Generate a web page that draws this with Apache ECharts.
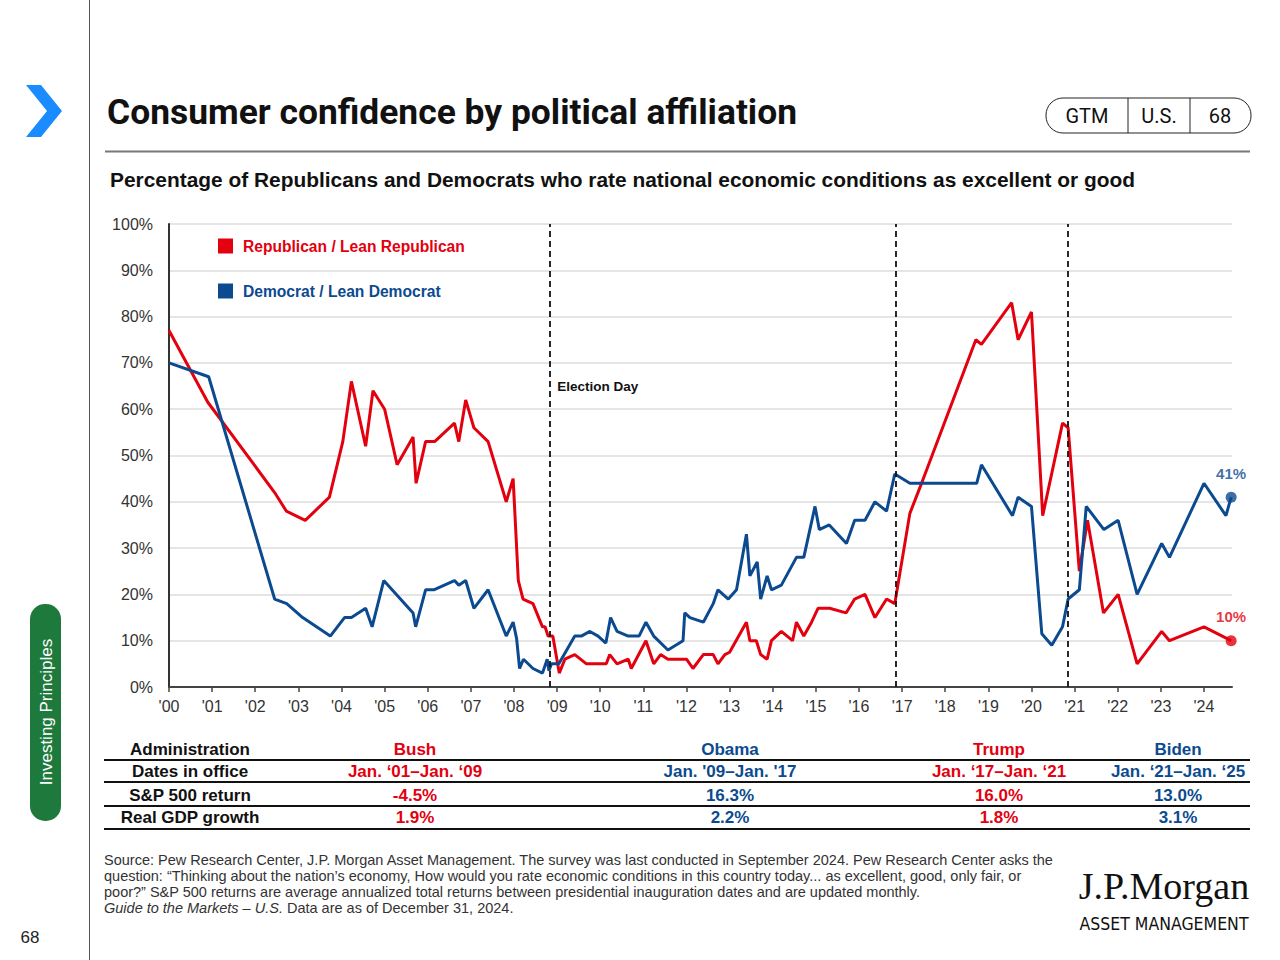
<!DOCTYPE html>
<html>
<head>
<meta charset="utf-8">
<script src="https://cdn.jsdelivr.net/npm/echarts@6/dist/echarts.min.js"></script>
<style>
html,body{margin:0;padding:0;background:#fff;}
#chart{width:1280px;height:960px;}
</style>
</head>
<body>
<div id="chart"></div>
<script>
// ---------- DATA ----------
const republican = [
  [2000.00,77],[2000.90,61.5],[2002.45,42],[2002.72,38],[2003.16,36],[2003.72,41],
  [2004.03,53],[2004.23,66],[2004.56,52],[2004.73,64],[2005.00,60],[2005.29,48],
  [2005.66,54],[2005.73,44],[2005.95,53],[2006.16,53],[2006.62,57],[2006.72,53],
  [2006.88,62],[2007.07,56],[2007.40,53],[2007.82,40],[2007.98,45],[2008.10,23],
  [2008.21,19],[2008.44,18],[2008.66,13],[2008.72,13],[2008.79,11],[2008.90,11],
  [2009.05,3],[2009.18,6],[2009.41,7],[2009.68,5],[2010.14,5],[2010.22,7],
  [2010.39,5],[2010.65,6],[2010.72,4],[2011.06,10],[2011.24,5],[2011.40,7],
  [2011.57,6],[2012.00,6],[2012.15,4],[2012.39,7],[2012.62,7],[2012.73,5],
  [2012.89,7],[2013.00,7.5],[2013.39,14],[2013.47,10],[2013.62,10],[2013.72,7],
  [2013.87,6],[2013.97,10],[2014.20,12],[2014.46,10],[2014.55,14],[2014.72,11],
  [2014.90,14],[2015.05,17],[2015.32,17],[2015.70,16],[2015.90,19],[2016.14,20],
  [2016.37,15],[2016.64,19],[2016.83,18],[2017.18,37.5],[2017.41,43],[2018.71,75],
  [2018.84,74],[2019.54,83],[2019.69,75],[2020.00,81],[2020.26,37],[2020.72,57],
  [2020.85,56],[2021.11,25],[2021.30,36],[2021.67,16],[2022.01,20],[2022.45,5],
  [2023.02,12],[2023.20,10],[2024.00,13],[2024.63,10]
];
const democrat = [
  [2000.00,70],[2000.92,67],[2002.45,19],[2002.73,18],[2003.10,15],[2003.74,11],
  [2004.07,15],[2004.23,15],[2004.56,17],[2004.71,13],[2004.98,23],[2005.66,16],
  [2005.72,13],[2005.95,21],[2006.14,21],[2006.62,23],[2006.72,22],[2006.88,23],
  [2007.07,17],[2007.40,21],[2007.82,11],[2007.98,14],[2008.06,10.5],[2008.13,4],
  [2008.22,6],[2008.44,4],[2008.66,3],[2008.77,6],[2008.81,3.5],[2008.87,5],
  [2009.04,5],[2009.41,11],[2009.56,11],[2009.76,12],[2009.95,11],[2010.13,9.5],
  [2010.24,15],[2010.39,12],[2010.65,11],[2010.90,11],[2011.06,14],[2011.24,11],
  [2011.57,8],[2011.92,10],[2011.96,16],[2012.08,15],[2012.39,14],[2012.62,18],
  [2012.73,21],[2012.97,19],[2013.16,21],[2013.39,33],[2013.47,24],[2013.64,27],
  [2013.72,19],[2013.87,24],[2013.97,21],[2014.20,22],[2014.55,28],[2014.72,28],
  [2014.98,39],[2015.08,34],[2015.31,35],[2015.71,31],[2015.90,36],[2016.14,36],
  [2016.37,40],[2016.64,38],[2016.83,46],[2017.18,44],[2018.73,44],[2018.84,48],
  [2019.56,37],[2019.69,41],[2020.00,39],[2020.24,11.5],[2020.47,9],[2020.72,13],
  [2020.85,19],[2021.11,21],[2021.27,39],[2021.68,34],[2022.01,36],[2022.45,20],
  [2023.02,31],[2023.20,28],[2024.00,44],[2024.51,37],[2024.63,41]
];
const electionDays = [2008.84, 2016.86, 2020.85];
const electionLabel = 'Election Day';
const seriesNames = ['Republican / Lean Republican', 'Democrat / Lean Democrat'];
const yTicks = [0,10,20,30,40,50,60,70,80,90,100];

const tableRowLabels = ['Administration','Dates in office','S&P 500 return','Real GDP growth'];
const administrations = ['Bush','Obama','Trump','Biden'];
const datesInOffice = ['Jan. \u201801\u2013Jan. \u201809','Jan. \'09\u2013Jan. \'17','Jan. \u201817\u2013Jan. \u201821','Jan. \u201821\u2013Jan. \u201825'];
const sp500Return = ['-4.5%','16.3%','16.0%','13.0%'];
const gdpGrowth = ['1.9%','2.2%','1.8%','3.1%'];
const adminParty = ['R','D','R','D'];

const footerLines = [
  'Source: Pew Research Center, J.P. Morgan Asset Management. The survey was last conducted in September 2024. Pew Research Center asks the',
  'question: \u201cThinking about the nation\u2019s economy, How would you rate economic conditions in this country today... as excellent, good, only fair, or',
  'poor?\u201d S&P 500 returns are average annualized total returns between presidential inauguration dates and are updated monthly.'
];

// ---------- STYLE ----------
const RED = '#e3000f';
const BLUE = '#0c4a90';
const SANS = '"Liberation Sans", Arial, sans-serif';

const chart = echarts.init(document.getElementById('chart'), null, {renderer:'svg'});

function txt(x, y, text, font, fill, align, extra){
  const st = {text:text, font:font, fill:fill, align:align, verticalAlign:'middle', textAlign:align, textVerticalAlign:'middle'};
  const el = {type:'text', x:x, y:y, style:st};
  if (extra) Object.assign(el, extra);
  return el;
}

const graphics = [];
// left vertical rule
graphics.push({type:'line', shape:{x1:89.5,y1:0,x2:89.5,y2:960}, style:{stroke:'#555', lineWidth:1}});
// chevron
graphics.push({type:'polygon', shape:{points:[[26,85],[41,85],[62,111],[41,137],[26,137],[47,111]]}, style:{fill:'#1a8cff'}});
// green pill
graphics.push({type:'rect', shape:{x:30,y:604,width:31,height:217,r:15}, style:{fill:'#1d7a3c'}});
graphics.push(txt(46, 712, 'Investing Principles', '17px '+SANS, '#fff', 'center', {rotation:Math.PI/2}));
// page number
graphics.push(txt(30, 937, '68', '17px '+SANS, '#222', 'center'));
// title
graphics.push(txt(107, 112, 'Consumer confidence by political affiliation', 'bold 35.4px Roboto, '+SANS, '#111', 'left'));
// top-right pill
graphics.push({type:'rect', shape:{x:1046,y:98,width:205,height:35,r:17}, style:{fill:'none', stroke:'#222', lineWidth:1}});
graphics.push({type:'line', shape:{x1:1128,y1:98,x2:1128,y2:133}, style:{stroke:'#222', lineWidth:1}});
graphics.push({type:'line', shape:{x1:1190,y1:98,x2:1190,y2:133}, style:{stroke:'#222', lineWidth:1}});
[['GTM',1087],['U.S.',1159],['68',1220]].forEach(function(t){
  graphics.push(txt(t[1], 116, t[0], '20px Roboto, '+SANS, '#111', 'center'));
});
// rule under title
graphics.push({type:'line', shape:{x1:105,y1:151.5,x2:1250,y2:151.5}, style:{stroke:'#777', lineWidth:2}});
// subtitle
graphics.push(txt(110, 179, 'Percentage of Republicans and Democrats who rate national economic conditions as excellent or good', 'bold 20.9px '+SANS, '#111', 'left'));

// table
const colX = [415, 730, 999, 1178];
const rowY = [749, 771, 795, 817];
const lineY = [760, 782, 806, 829];
const rows = [administrations, datesInOffice, sp500Return, gdpGrowth];
rows.forEach(function(vals, r){
  graphics.push(txt(190, rowY[r], tableRowLabels[r], 'bold 17px '+SANS, '#111', 'center'));
  vals.forEach(function(v, c){
    graphics.push(txt(colX[c], rowY[r], v, 'bold 17px '+SANS, adminParty[c]==='R'?RED:BLUE, 'center'));
  });
});
lineY.forEach(function(y){
  graphics.push({type:'line', shape:{x1:104,y1:y,x2:1250,y2:y}, style:{stroke:'#111', lineWidth:2}});
});

// footer
footerLines.forEach(function(t, i){
  graphics.push(txt(104, 860+16*i, t, '14.5px '+SANS, '#333', 'left'));
});
const lastLine = txt(104, 908, '{i|Guide to the Markets \u2013 U.S.} Data are as of December 31, 2024.', '14.5px '+SANS, '#333', 'left');
lastLine.style.rich = {i:{fontStyle:'italic', font:'italic 14.5px '+SANS, fill:'#333'}};
graphics.push(lastLine);
// logo
graphics.push(txt(1164, 886, 'J.P.Morgan', '38px "Liberation Serif", "DejaVu Serif", serif', '#111', 'center'));
graphics.push(txt(1164, 924, 'ASSET MANAGEMENT', '17.5px "Liberation Sans Narrow", "DejaVu Sans Condensed", '+SANS, '#111', 'center'));

const option = {
  animation:false,
  backgroundColor:'#fff',
  textStyle:{fontFamily:SANS},
  grid:{left:169, right:48, top:224, bottom:273, containLabel:false},
  legend:{
    orient:'vertical', left:213, top:233, itemWidth:15, itemHeight:15, itemGap:29, icon:'rect',
    textStyle:{fontSize:15.6, fontWeight:'bold', fontFamily:SANS, padding:[0,0,0,5]},
    data:[
      {name:seriesNames[0], textStyle:{color:RED}},
      {name:seriesNames[1], textStyle:{color:BLUE}}
    ],
    selectedMode:false
  },
  xAxis:{
    type:'value', min:2000, max:2024.65, interval:1,
    axisLine:{show:true, lineStyle:{color:'#444', width:2}},
    axisTick:{show:true, length:5, lineStyle:{color:'#444', width:1.5}},
    axisLabel:{color:'#333', fontSize:16, margin:11, showMaxLabel:false,
      formatter:function(v){ return Number.isInteger(v) ? "'" + String(v).slice(2) : ''; }},
    splitLine:{show:false}
  },
  yAxis:{
    type:'value', min:yTicks[0], max:yTicks[yTicks.length-1], interval:10,
    axisLine:{show:true, lineStyle:{color:'#333', width:2}},
    axisTick:{show:false},
    axisLabel:{color:'#333', fontSize:16, margin:16, formatter:'{value}%'},
    splitLine:{show:true, lineStyle:{color:'#dcdcdc', width:1.5}}
  },
  series:[
    {
      name:seriesNames[0], type:'line', data:republican, showSymbol:false, symbol:'none',
      lineStyle:{color:RED, width:3}, itemStyle:{color:RED}, z:2,
      markLine:{
        silent:true, symbol:['none','none'], label:{show:false},
        lineStyle:{color:'#111', type:[6,4], width:1.8},
        data:electionDays.map(function(d){ return {xAxis:d}; }),
        z:5
      },
      markPoint:{
        silent:true,
        data:[{coord:[electionDays[0],65], symbol:'circle', symbolSize:0,
          label:{show:true, position:'right', distance:7, formatter:electionLabel, color:'#111', fontSize:13.5, fontWeight:'bold'}}]
      }
    },
    {
      name:seriesNames[1], type:'line', data:democrat, showSymbol:false, symbol:'none',
      lineStyle:{color:BLUE, width:3}, itemStyle:{color:BLUE}, z:3
    },
    {
      name:'repEnd', type:'scatter', data:[republican[republican.length-1]], symbolSize:11,
      itemStyle:{color:RED}, z:4,
      label:{show:true, position:'top', distance:11, color:RED, fontSize:15, fontWeight:'bold', formatter:function(p){return p.value[1]+'%';}}
    },
    {
      name:'demEnd', type:'scatter', data:[democrat[democrat.length-1]], symbolSize:11,
      itemStyle:{color:BLUE}, z:4,
      label:{show:true, position:'top', distance:11, color:BLUE, fontSize:15, fontWeight:'bold', formatter:function(p){return p.value[1]+'%';}}
    }
  ],
  graphic:graphics
};
chart.setOption(option);
</script>
</body>
</html>
